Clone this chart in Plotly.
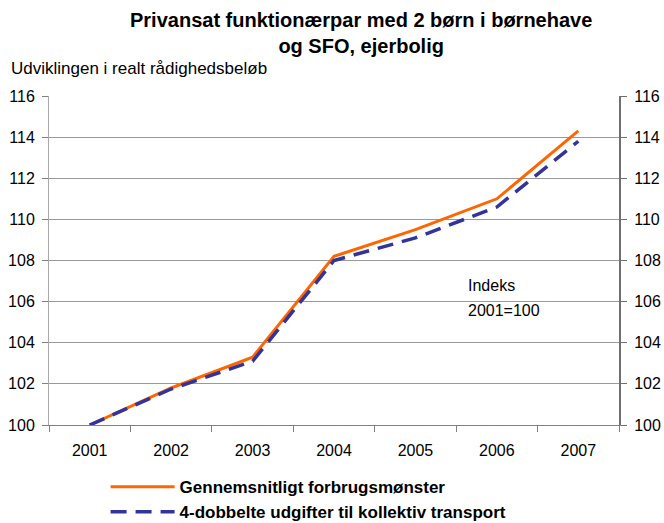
import plotly.graph_objects as go

years = ["2001", "2002", "2003", "2004", "2005", "2006", "2007"]
gennemsnit = [100.0, 101.8, 103.3, 108.2, 109.5, 111.0, 114.3]
kollektiv = [100.0, 101.75, 103.1, 108.0, 109.1, 110.6, 113.8]
name_a = "Gennemsnitligt forbrugsmønster"
name_b = "4-dobbelte udgifter til kollektiv transport"
y_ticks = [100, 102, 104, 106, 108, 110, 112, 114, 116]

FONT = "Liberation Sans, Arial, sans-serif"

# plot area in pixels: x 49..619, y 96..425
L, R, T, B = 49, 619, 96, 425
W, H = 664, 523


def px(x):
    return (x - L) / (R - L)


def py(y):
    return (B - y) / (B - T)


fig = go.Figure()
fig.add_trace(go.Scatter(
    x=years, y=gennemsnit, name=name_a, mode="lines",
    line=dict(color="#FF6600", width=3), hoverinfo="skip"))
fig.add_trace(go.Scatter(
    x=years, y=kollektiv, name=name_b, mode="lines",
    line=dict(color="#333399", width=3.5, dash="16px,9px"), hoverinfo="skip"))
# invisible trace to carry the right-hand axis
fig.add_trace(go.Scatter(
    x=years, y=gennemsnit, yaxis="y2", mode="lines", showlegend=False,
    line=dict(width=0, color="rgba(0,0,0,0)"), hoverinfo="skip"))

fig.update_layout(
    width=W, height=H,
    paper_bgcolor="white", plot_bgcolor="white",
    margin=dict(l=L, r=W - R, t=T, b=H - B, autoexpand=False),
    font=dict(family=FONT, size=16, color="#000000"),
    xaxis=dict(
        type="category", range=[-0.5, 6.5],
        tickson="boundaries", ticks="outside", ticklen=6, tickcolor="#808080",
        showline=True, linecolor="#808080", linewidth=1, tickangle=0,
        ticklabelstandoff=11,
        showgrid=False, tickfont=dict(size=16)),
    yaxis=dict(
        range=[100, 116], tickvals=y_ticks, ticks="outside", ticklen=6,
        tickcolor="#808080", showline=True, linecolor="#a8a8a8", linewidth=1,
        showgrid=True, gridcolor="#999999", gridwidth=1, zeroline=False,
        ticklabelstandoff=4, tickfont=dict(size=16)),
    yaxis2=dict(
        range=[100, 116], tickvals=y_ticks, overlaying="y", side="right",
        ticks="outside", ticklen=6, tickcolor="#707070",
        showline=True, linecolor="#707070", linewidth=2,
        ticklabelstandoff=4,
        showgrid=False, zeroline=False, tickfont=dict(size=16)),
    legend=dict(
        orientation="v", xref="container", yref="container",
        x=0.159, xanchor="left", y=0.103, yanchor="top",
        font=dict(family=FONT, size=17, weight="bold", color="#000000"),
        itemwidth=64, tracegroupgap=0, bgcolor="rgba(0,0,0,0)"),
    annotations=[
        dict(text="Privansat funktionærpar med 2 børn i børnehave<br>og SFO, ejerbolig",
             xref="paper", yref="paper", x=px(361), y=py(33),
             xanchor="center", yanchor="middle", align="center", showarrow=False,
             font=dict(family=FONT, size=20, weight="bold", color="#000000")),
        dict(text="Udviklingen i realt rådighedsbeløb", xref="paper", yref="paper",
             x=px(9), y=py(68), xanchor="left", yanchor="middle", showarrow=False,
             font=dict(family=FONT, size=17, color="#000000")),
        dict(text="Indeks", xref="paper", yref="paper",
             x=px(466), y=py(285), xanchor="left", yanchor="middle", align="left",
             showarrow=False, font=dict(family=FONT, size=16, color="#000000")),
        dict(text="2001=100", xref="paper", yref="paper",
             x=px(466), y=py(310), xanchor="left", yanchor="middle", align="left",
             showarrow=False, font=dict(family=FONT, size=16, color="#000000")),
    ],
)

fig.write_html("out.html", config={"displayModeBar": False},
               post_script="document.body.style.margin='0';")
